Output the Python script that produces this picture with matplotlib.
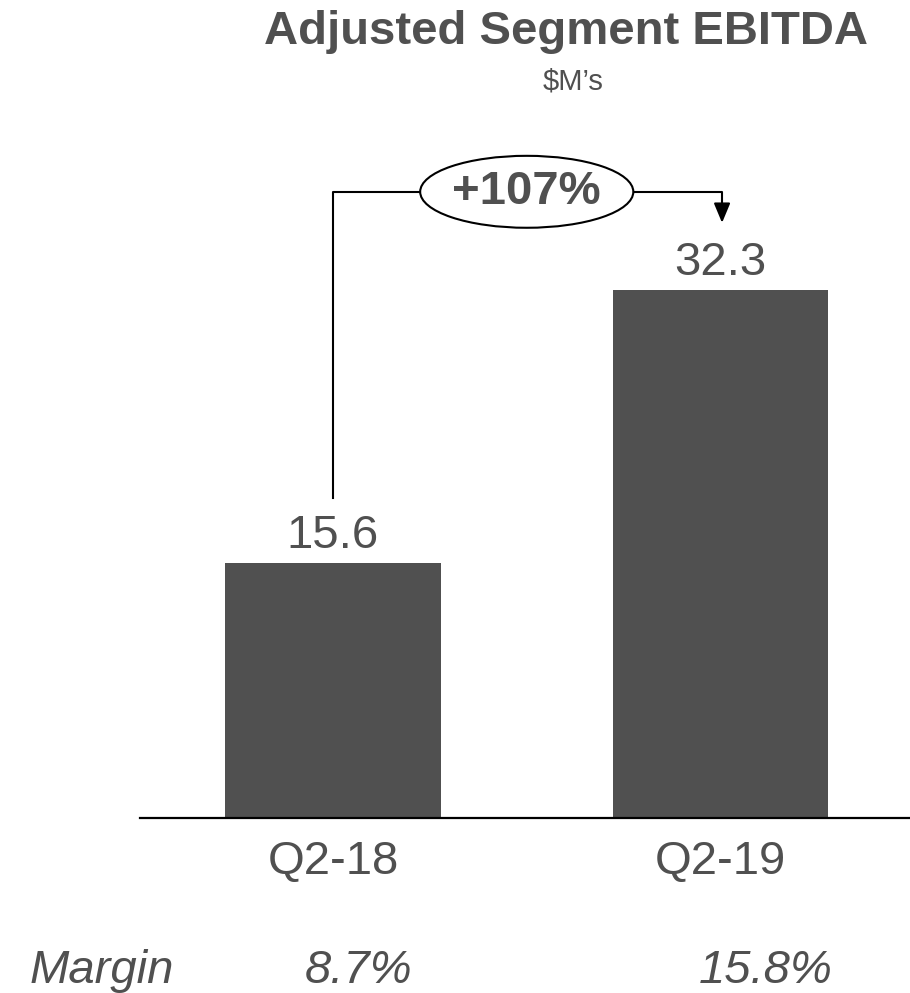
import matplotlib.pyplot as plt
from matplotlib.patches import Ellipse

plt.rcParams['font.family'] = ['Liberation Sans', 'DejaVu Sans']

# data
quarters = ["Q2-18", "Q2-19"]
ebitda = [15.6, 32.3]
margins = ["8.7%", "15.8%"]
growth = "+107%"

bar_color = "#505050"
text_color = "#505050"

fig = plt.figure(figsize=(9.10, 9.93), dpi=100)
# axes: x from 140px to 910px, baseline at y=818px
ax = fig.add_axes([140 / 910, 1 - 818 / 993, 770 / 910, (818 - 100) / 993])

x = [0, 1]
ax.bar(x, ebitda, width=0.556, color=bar_color, zorder=2)
ax.set_xlim(-0.498, 1.489)
ax.set_ylim(0, (818 - 100) / 16.35)

for spine in ["top", "right", "left"]:
    ax.spines[spine].set_visible(False)
ax.spines["bottom"].set_linewidth(1.6)
ax.spines["bottom"].set_color("black")
ax.set_yticks([])
ax.set_xticks(x)
ax.set_xticklabels(quarters, fontsize=34, color=text_color)
ax.tick_params(axis="x", length=0, pad=16)

# value labels
for xi, v in zip(x, ebitda):
    ax.text(xi, v + 0.92, f"{v:.1f}", ha="center", va="baseline", fontsize=34, color=text_color)

# growth bracket
bracket_y = 38.3
ell_x, ell_w, ell_h = 0.50, 0.55, 4.4
ax.plot([0, 0, ell_x - ell_w / 2], [ebitda[0] + 4.0, bracket_y, bracket_y],
        color="black", lw=1.5, clip_on=False)
ax.annotate("", xy=(1.004, ebitda[1] + 4.1), xytext=(ell_x + ell_w / 2, bracket_y),
            arrowprops=dict(arrowstyle="-|>,head_length=0.6,head_width=0.25",
                            connectionstyle="angle,angleA=0,angleB=90,rad=0",
                            color="black", lw=1.5, mutation_scale=20, shrinkA=0, shrinkB=0))
ax.add_patch(Ellipse((ell_x, bracket_y), ell_w, ell_h, facecolor="white",
                     edgecolor="black", lw=1.5, zorder=3, clip_on=False))
ax.text(ell_x, bracket_y, growth, ha="center", va="center", fontsize=34,
        fontweight="bold", color=text_color, zorder=4)

# title
fig.text(566 / 910, 1 - 32 / 993, "Adjusted Segment EBITDA", ha="center", va="center",
         fontsize=34, fontweight="bold", color=text_color)
fig.text(573 / 910, 1 - 82 / 993, "$M’s", ha="center", va="center",
         fontsize=21, color=text_color)

# margin row
row_y = 1 - 983 / 993
fig.text(102 / 910, row_y, "Margin", ha="center", va="baseline",
         fontsize=34, style="italic", color=text_color)
for px, m in zip([359, 766], margins):
    fig.text(px / 910, row_y, m, ha="center", va="baseline",
             fontsize=34, style="italic", color=text_color)

fig.savefig("out.png", dpi=100)
